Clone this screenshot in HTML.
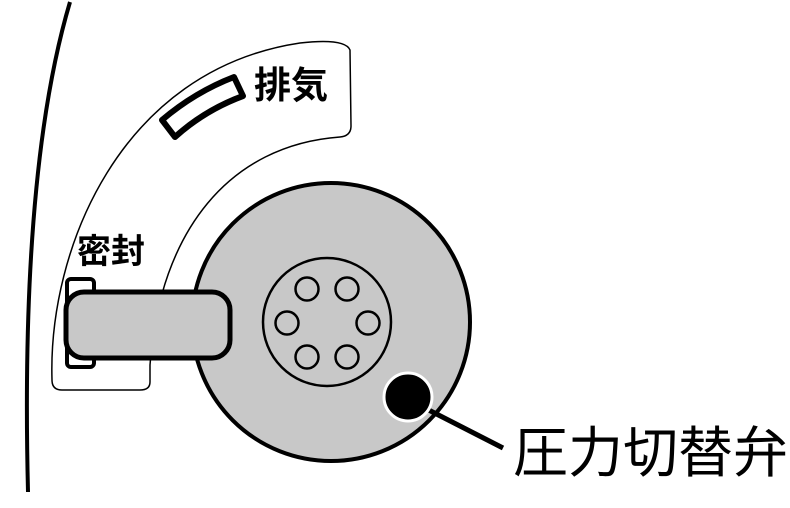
<!DOCTYPE html>
<html><head><meta charset="utf-8"><style>
html,body{margin:0;padding:0;background:#fff;}
svg{display:block}
text{font-family:"Liberation Sans","Noto Sans CJK JP",sans-serif;}
</style></head><body>
<svg width="790" height="508" viewBox="0 0 790 508" xmlns="http://www.w3.org/2000/svg">
<path d="M70,2 Q20,170 28,492" fill="none" stroke="#000" stroke-width="4"/>
<path d="M52,380 C48,250 120,70 300,43 Q345,38 350,50 L351,126 Q351,136 340,137 C230,145 160,230 150,365 L150,382 Q150,390 140,390 L62,390 Q52,390 52,380 Z" fill="#fff" stroke="#000" stroke-width="1.5"/>
<path d="M162,120 Q195,92 234,77 L243,96 Q205,110 175,137 Z" fill="#fff" stroke="#000" stroke-width="6" stroke-linejoin="round"/>
<text x="254" y="98" font-size="37" font-weight="bold">排気</text>
<text x="77" y="263" font-size="34" font-weight="bold">密封</text>
<circle cx="331" cy="322" r="139" fill="#c8c8c8" stroke="#000" stroke-width="4"/>
<rect x="67" y="279" width="27" height="88" rx="4" fill="#fff" stroke="#000" stroke-width="4"/>
<rect x="66" y="292" width="164" height="66" rx="18" fill="#c8c8c8" stroke="#000" stroke-width="5"/>
<circle cx="327" cy="322" r="64" fill="none" stroke="#000" stroke-width="2.5"/>
<g fill="none" stroke="#000" stroke-width="2.5">
<circle cx="307" cy="289" r="11.5"/><circle cx="347" cy="289" r="11.5"/>
<circle cx="287" cy="323" r="11.5"/><circle cx="368" cy="323" r="11.5"/>
<circle cx="307" cy="357" r="11.5"/><circle cx="347" cy="357" r="11.5"/>
</g>
<line x1="415" y1="403" x2="503" y2="448" stroke="#000" stroke-width="5"/>
<circle cx="408" cy="397" r="24" fill="#000" stroke="#fff" stroke-width="3"/>
<text x="513" y="472" font-size="55">圧力切替弁</text>
</svg>
</body></html>
